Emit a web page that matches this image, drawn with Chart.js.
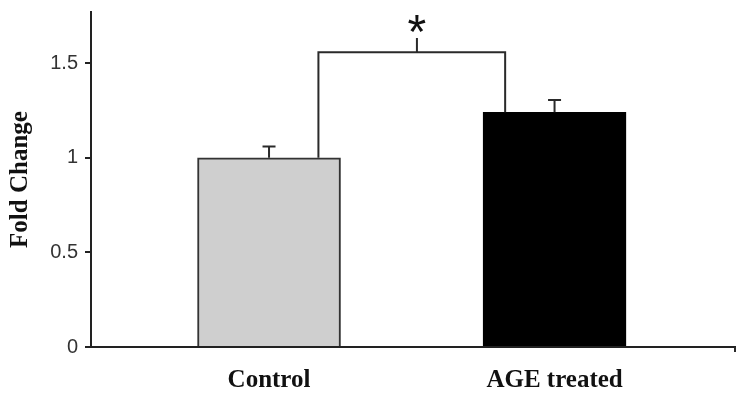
<!DOCTYPE html>
<html>
<head>
<meta charset="utf-8">
<script src="https://cdn.jsdelivr.net/npm/chart.js@4"></script>
<style>
  html, body { margin: 0; padding: 0; background: #fff; }
  canvas { display: block; }
</style>
</head>
<body>
<canvas id="myChart" width="745" height="400"></canvas>
<script>
const categories = ['Control', 'AGE treated'];
const positions = [0, 1];
const foldChange = [1.0, 1.24];
const errorUp = [0.06, 0.065];
const barColors = ['#cfcfcf', '#000000'];
const barBorders = ['#333333', '#000000'];
const yTicks = [0, 0.5, 1, 1.5];
const yTickLabels = ['0', '0.5', '1', '1.5'];

// significance bracket, in data units
const bracketX = [0.173, 0.827];
const bracketLevel = 1.557;
const bracketTick = [0.518, 1.632];
const starLevel = 1.58;

const annotations = {
    id: 'annotations',
    afterDatasetsDraw(chart) {
        const { ctx, scales: { x, y }, chartArea } = chart;
        ctx.save();
        ctx.strokeStyle = '#2a2a2a';
        ctx.lineWidth = 2;

        // error bars (upper only)
        positions.forEach((p, i) => {
            const px = x.getPixelForValue(p);
            const base = y.getPixelForValue(foldChange[i]);
            const top = y.getPixelForValue(foldChange[i] + errorUp[i]);
            ctx.beginPath();
            ctx.moveTo(px, base);
            ctx.lineTo(px, top);
            ctx.moveTo(px - 6.5, top);
            ctx.lineTo(px + 6.5, top);
            ctx.stroke();
        });

        // bracket
        const lx = x.getPixelForValue(bracketX[0]);
        const rx = x.getPixelForValue(bracketX[1]);
        const by = y.getPixelForValue(bracketLevel);
        ctx.beginPath();
        ctx.moveTo(lx, y.getPixelForValue(foldChange[0]));
        ctx.lineTo(lx, by);
        ctx.lineTo(rx, by);
        ctx.lineTo(rx, y.getPixelForValue(foldChange[1]));
        const tx = x.getPixelForValue(bracketTick[0]);
        ctx.moveTo(tx, by);
        ctx.lineTo(tx, y.getPixelForValue(bracketTick[1]));
        ctx.stroke();

        // asterisk
        ctx.fillStyle = '#111';
        ctx.font = '48px "Liberation Sans"';
        ctx.textAlign = 'center';
        ctx.textBaseline = 'alphabetic';
        ctx.fillText('*', tx, y.getPixelForValue(starLevel));

        // small tick at the right end of the x axis
        ctx.beginPath();
        ctx.moveTo(chartArea.right, chartArea.bottom);
        ctx.lineTo(chartArea.right, chartArea.bottom + 5);
        ctx.stroke();
        ctx.restore();
    }
};

const ctx = document.getElementById('myChart').getContext('2d');
new Chart(ctx, {
    type: 'bar',
    data: {
        datasets: [{
            data: positions.map((p, i) => ({ x: p, y: foldChange[i] })),
            backgroundColor: barColors,
            borderColor: barBorders,
            borderWidth: 2,
            borderSkipped: 'bottom',
            barThickness: 143
        }]
    },
    options: {
        responsive: false,
        animation: false,
        layout: { padding: { left: 0, right: 10, top: 12, bottom: 0 } },
        plugins: {
            legend: { display: false },
            tooltip: { enabled: false }
        },
        scales: {
            x: {
                type: 'linear',
                offset: false,
                min: -0.6235,
                max: 1.632,
                grid: { drawOnChartArea: false, drawTicks: false, offset: false },
                border: { color: '#222', width: 2 },
                afterBuildTicks: (s) => { s.ticks = positions.map(v => ({ value: v })); },
                afterFit: (s) => { s.height = 53; s.paddingLeft = 0; s.paddingRight = 0; },
                ticks: {
                    callback: (v) => categories[positions.indexOf(v)] ?? '',
                    font: { family: 'Liberation Serif', size: 25, weight: 'bold' },
                    color: '#111',
                    padding: 19,
                    maxRotation: 0,
                    autoSkip: false
                }
            },
            y: {
                min: 0,
                max: 1.77,
                afterBuildTicks: (s) => { s.ticks = yTicks.map(v => ({ value: v })); },
                afterFit: (s) => { s.width = 91; s.paddingTop = 0; s.paddingBottom = 0; },
                grid: { drawOnChartArea: false, tickLength: 6, color: '#222', lineWidth: 2 },
                border: { color: '#222', width: 2 },
                ticks: {
                    callback: (v) => yTickLabels[yTicks.indexOf(v)] ?? '',
                    font: { family: 'Liberation Sans', size: 20 },
                    color: '#333',
                    padding: 7
                },
                title: {
                    display: true,
                    text: 'Fold Change',
                    font: { family: 'Liberation Serif', size: 25, weight: 'bold' },
                    color: '#111',
                    padding: { top: 6, bottom: 0 }
                }
            }
        }
    },
    plugins: [annotations]
});
</script>
</body>
</html>
